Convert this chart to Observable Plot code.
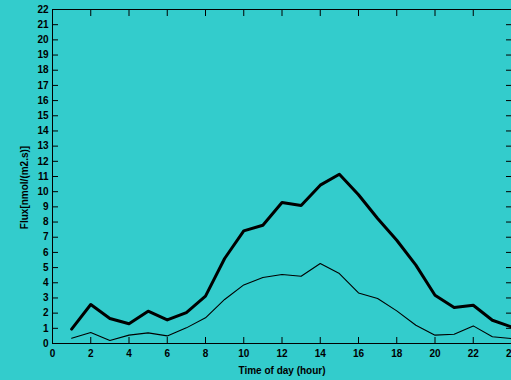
<!DOCTYPE html>
<html>
<head>
<meta charset="utf-8">
<script src="https://cdn.jsdelivr.net/npm/d3@7"></script>
<script src="https://cdn.jsdelivr.net/npm/@observablehq/plot@0.6"></script>
<style>
  html, body { margin: 0; padding: 0; background: #33cccc; }
  #chart svg { display: block; }
</style>
</head>
<body>
<div id="chart"></div>
<script>
// Hour of day for each sample
const hours = [1, 2, 3, 4, 5, 6, 7, 8, 9, 10, 11, 12, 13, 14, 15, 16, 17, 18, 19, 20, 21, 22, 23, 24];
// Flux series, nmol/(m2.s)
const fluxHigh = [0.95, 2.57, 1.65, 1.3, 2.13, 1.55, 2.04, 3.12, 5.6, 7.42, 7.79, 9.29, 9.09, 10.43, 11.15, 9.8, 8.23, 6.8, 5.16, 3.18, 2.37, 2.52, 1.53, 1.09];
const fluxLow = [0.35, 0.72, 0.2, 0.55, 0.7, 0.5, 1.03, 1.69, 2.9, 3.86, 4.35, 4.54, 4.43, 5.27, 4.61, 3.33, 2.96, 2.15, 1.2, 0.55, 0.61, 1.16, 0.44, 0.33];
// Axis tick values
const xTicks = [0, 2, 4, 6, 8, 10, 12, 14, 16, 18, 20, 22, 24];
const yTicks = d3.range(0, 23);
const xLabel = "Time of day (hour)";
const yLabel = "Flux[nmol/(m2.s)]";

const high = hours.map((h, i) => ({hour: h, flux: fluxHigh[i]}));
const low = hours.map((h, i) => ({hour: h, flux: fluxLow[i]}));

const chart = Plot.plot({
  width: 511,
  height: 380,
  marginLeft: 52,
  marginRight: 0,
  marginTop: 9,
  marginBottom: 37,
  style: {
    background: "#33cccc",
    color: "#000",
    fontFamily: "'Liberation Sans', Arial, sans-serif",
    fontSize: "10px",
    fontWeight: "bold",
    overflow: "hidden"
  },
  x: {domain: [0, 24]},
  y: {domain: [0, 22]},
  marks: [
    // inward ticks on all four sides
    Plot.axisY({ticks: yTicks, anchor: "left", tickSize: 6, dx: 6, fill: "none", label: null}),
    Plot.axisY({ticks: yTicks, anchor: "right", tickSize: 6, dx: -6, fill: "none", label: null}),
    Plot.axisX({ticks: xTicks, anchor: "top", tickSize: 6, dy: 6, fill: "none", label: null}),
    Plot.axisX({ticks: xTicks, anchor: "bottom", tickSize: 6, dy: -6, fill: "none", label: null}),
    // tick labels
    Plot.axisY({ticks: yTicks, anchor: "left", tickSize: 0, tickPadding: 4, label: null}),
    Plot.axisX({ticks: xTicks, anchor: "bottom", tickSize: 0, tickPadding: 6, label: null}),
    Plot.frame({stroke: "#000"}),
    // axis titles
    Plot.text([xLabel], {frameAnchor: "bottom", dy: 30, text: d => d}),
    Plot.text([yLabel], {frameAnchor: "left", textAnchor: "middle", rotate: -90, dx: -27.5, dy: 11, text: d => d}),
    // series
    Plot.line(low, {x: "hour", y: "flux", stroke: "#000", strokeWidth: 1.1}),
    Plot.line(high, {x: "hour", y: "flux", stroke: "#000", strokeWidth: 3})
  ]
});
document.getElementById("chart").append(chart);
</script>
</body>
</html>
